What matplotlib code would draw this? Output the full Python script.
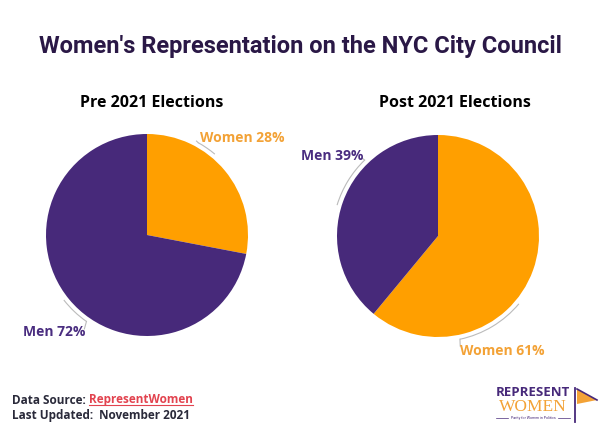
import numpy as np
import matplotlib.pyplot as plt
from matplotlib.patches import Arc, Polygon

# ------------------------------
# Data
# ------------------------------
groups = ["Women", "Men"]
pre_2021 = [28, 72]
post_2021 = [61, 39]
chart_titles = ["Pre 2021 Elections", "Post 2021 Elections"]

ORANGE = "#FF9F00"
PURPLE = "#47297A"
ORANGE_TXT = "#F3A236"
PURPLE_TXT = "#4A2D80"
LINE = "#BBBBBB"

plt.rcParams['font.family'] = ['Roboto', 'DejaVu Sans']

W, H = 600, 433
fig = plt.figure(figsize=(6, 4.33), dpi=100)


def pie_axes(cx, cy, r):
    # place an axes so that a radius-1 pie lands at pixel centre (cx, cy)
    ax = fig.add_axes([(cx - r) / W, 1 - (cy + r) / H, 2 * r / W, 2 * r / H])
    ax.axis('off')
    return ax


def fix_limits(ax):
    # pie() resets the limits to +-1.25, put them back
    ax.set_xlim(-1, 1)
    ax.set_ylim(-1, 1)
    ax.set_aspect('equal')


def leader(ax, a1, a2, tick_end, text, tx, ty, color, ha):
    # thin curved connector running along the outside of the pie
    rr = 1.045
    ax.add_patch(Arc((0, 0), 2 * rr, 2 * rr, theta1=min(a1, a2), theta2=max(a1, a2),
                     color=LINE, lw=0.8, clip_on=False))
    sx, sy = rr * np.cos(np.radians(a1)), rr * np.sin(np.radians(a1))
    ax.plot([sx, tick_end[0]], [sy, tick_end[1]], color=LINE, lw=0.8, clip_on=False)
    ax.text(tx, ty, text, color=color, fontsize=10, fontweight='bold', ha=ha, va='center',
            clip_on=False, family=['Open Sans', 'DejaVu Sans'])


# ------------------------------
# Pre 2021
# ------------------------------
ax1 = pie_axes(147, 235, 101)
ax1.pie(pre_2021, colors=[ORANGE, PURPLE], startangle=90, counterclock=False, radius=1,
        wedgeprops=dict(linewidth=0))
fix_limits(ax1)
leader(ax1, 61, 50, (0.49, 0.93), f"{groups[0]} {pre_2021[0]}%", 0.52, 0.96, ORANGE_TXT, 'left')
leader(ax1, -125, -142, (-0.62, -0.93), f"{groups[1]} {pre_2021[1]}%", -0.61, -0.96, PURPLE_TXT, 'right')

# ------------------------------
# Post 2021
# ------------------------------
ax2 = pie_axes(438, 236, 101)
ax2.pie(post_2021, colors=[ORANGE, PURPLE], startangle=90, counterclock=False, radius=1,
        wedgeprops=dict(linewidth=0))
fix_limits(ax2)
leader(ax2, 134, 163, (-0.75, 0.77), f"{groups[1]} {post_2021[1]}%", -0.74, 0.79, PURPLE_TXT, 'right')
leader(ax2, -78, -40, (0.22, -1.09), f"{groups[0]} {post_2021[0]}%", 0.22, -1.14, ORANGE_TXT, 'left')

# ------------------------------
# Titles
# ------------------------------
fig.text(0.5, 1 - 47 / H, "Women's Representation on the NYC City Council", ha='center', va='center',
         fontsize=17, fontweight='bold', color="#2A1846")
fig.text(152 / W, 1 - 103 / H, chart_titles[0], ha='center', va='center', fontsize=11.5,
         fontweight='bold', color='black', family=['Open Sans', 'DejaVu Sans'])
fig.text(455 / W, 1 - 103 / H, chart_titles[1], ha='center', va='center', fontsize=11.5,
         fontweight='bold', color='black', family=['Open Sans', 'DejaVu Sans'])

# ------------------------------
# Footer
# ------------------------------
src = fig.text(12 / W, 1 - 400 / H, "Data Source: ", ha='left', va='center', fontsize=8.5,
               fontweight='bold', color="#2A2A3A", family=['Open Sans', 'DejaVu Sans'])
fig.canvas.draw()
bb = src.get_window_extent()
link = fig.text(bb.x1 / W, 1 - 400 / H, "RepresentWomen", ha='left', va='center', fontsize=8.5,
                fontweight='bold', color="#E2434F", family=['Open Sans', 'DejaVu Sans'])
fig.canvas.draw()
lb = link.get_window_extent()
fig.add_artist(plt.Line2D([lb.x0 / W, lb.x1 / W], [(lb.y0 + 2) / H, (lb.y0 + 2) / H],
                          color="#E2434F", lw=0.8))
fig.text(12 / W, 1 - 415 / H, "Last Updated:  November 2021", ha='left', va='center', fontsize=8.5,
         fontweight='bold', color="#2A2A3A", family=['Open Sans', 'DejaVu Sans'])

# logo
fig.text(533 / W, 1 - 393 / H, "REPRESENT", ha='center', va='center', fontsize=9.5,
         fontweight='bold', color=PURPLE, family=['Open Sans', 'DejaVu Sans'])
fig.text(533 / W, 1 - 407 / H, "WOMEN", ha='center', va='center', fontsize=12.5,
         color=ORANGE_TXT, family=['Liberation Serif', 'DejaVu Serif'])
fig.text(533 / W, 1 - 418 / H, "Parity for Women in Politics", ha='center', va='center', fontsize=2.6,
         color=PURPLE)
fig.add_artist(plt.Line2D([496 / W, 508 / W], [1 - 418 / H] * 2, color=PURPLE, lw=0.5))
fig.add_artist(plt.Line2D([558 / W, 570 / W], [1 - 418 / H] * 2, color=PURPLE, lw=0.5))
fig.add_artist(plt.Line2D([575 / W, 575 / W], [1 - 388 / H, 1 - 422 / H], color=PURPLE, lw=1.3))
fig.add_artist(Polygon([[577 / W, 1 - 389 / H], [597 / W, 1 - 400 / H], [577 / W, 1 - 404 / H]],
                       closed=True, facecolor=ORANGE_TXT, edgecolor='none'))
fig.add_artist(plt.Line2D([577 / W, 597 / W], [1 - 389 / H, 1 - 400 / H], color=PURPLE, lw=1.2))

fig.savefig("out.png", dpi=100)
